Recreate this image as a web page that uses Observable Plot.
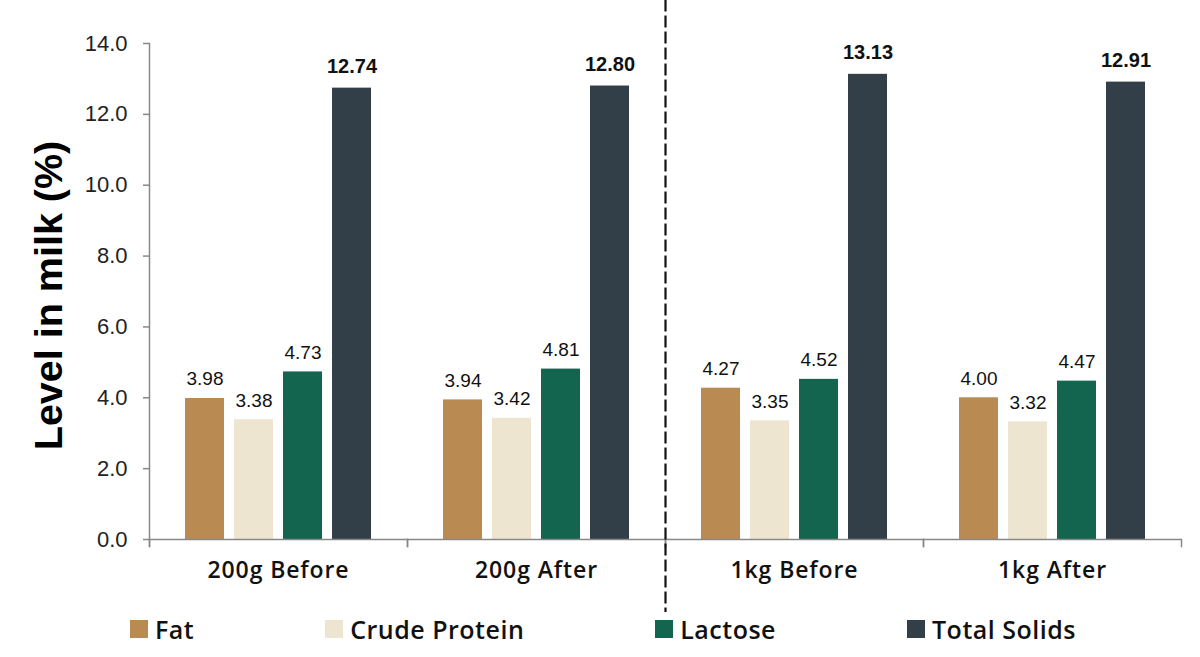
<!DOCTYPE html>
<html><head><meta charset="utf-8">
<script src="https://cdn.jsdelivr.net/npm/d3@7"></script>
<script src="https://cdn.jsdelivr.net/npm/@observablehq/plot@0.6"></script>
<style>
body{margin:0;background:#fff;}
#legend{display:flex;gap:131px;padding-left:130px;height:34px;align-items:center;font-family:"Open Sans",sans-serif;font-weight:600;font-size:25px;letter-spacing:0.5px;color:#111}
.item{display:flex;align-items:center;gap:7px}
.sw{width:18px;height:18px;display:inline-block}
svg [aria-label="fx-axis tick label"] text{letter-spacing:0.9px}
</style></head><body>
<div id="chart"></div><div id="legend"></div>
<script>
const groups = ["200g Before", "200g After", "1kg Before", "1kg After"];
const series = ["Fat", "Crude Protein", "Lactose", "Total Solids"];
const fat = [3.98, 3.94, 4.27, 4.00];
const protein = [3.38, 3.42, 3.35, 3.32];
const lactose = [4.73, 4.81, 4.52, 4.47];
const totalSolids = [12.74, 12.80, 13.13, 12.91];
const colors = ["#B98B52", "#EDE5D0", "#13654F", "#333F48"];
const yTicks = [0, 2, 4, 6, 8, 10, 12, 14];
const yTitle = "Level in milk (%)";
const divider = "1kg Before";

const valuesBySeries = [fat, protein, lactose, totalSolids];
const data = groups.flatMap((g, gi) => series.map((s, si) => ({group: g, series: s, value: valuesBySeries[si][gi]})));

const W = 1200, H = 612, mt = 43, mb = 73, ml = 149, mr = 19;
const innerH = H - mt - mb;

const chart = Plot.plot({
  width: W, height: H, marginTop: mt, marginBottom: mb, marginLeft: ml, marginRight: mr,
  style: {fontFamily: "Liberation Sans, Arial, sans-serif", background: "#fff"},
  fx: {domain: groups, padding: 0, label: null, axis: null},
  x: {domain: series, paddingInner: 0.2, paddingOuter: 0.73, axis: null},
  y: {domain: [0, 14], axis: null},
  color: {domain: series, range: colors},
  marks: [
    Plot.axisFx({anchor: "bottom", tickSize: 0, tickPadding: 22, fontSize: 23, fontFamily: "Open Sans, sans-serif", fontWeight: 600, fill: "#111", label: null}),
    Plot.axisY(yTicks, {anchor: "left", tickSize: 6, tickPadding: 16, fontSize: 22, tickFormat: d => d.toFixed(1), stroke: "#888", strokeWidth: 1.5, fill: "#222", label: null}),
    Plot.barY(data, {fx: "group", x: "series", y: "value", fill: "series"}),
    Plot.ruleY([0], {stroke: "#888", strokeWidth: 1.5}),
    Plot.frame({anchor: "left", fx: () => groups[0], stroke: "#888", strokeWidth: 1.5, insetBottom: -7}),
    Plot.frame({anchor: "left", stroke: "#888", strokeWidth: 1.5, insetTop: innerH, insetBottom: -7}),
    Plot.frame({anchor: "right", stroke: "#888", strokeWidth: 1.5, insetTop: innerH, insetBottom: -7}),
    Plot.frame({anchor: "left", fx: () => divider, stroke: "#111", strokeWidth: 2.2, strokeDasharray: "10,6", insetTop: -mt, insetBottom: -mb}),
    Plot.text(data.filter(d => d.series !== "Total Solids"), {fx: "group", x: "series", y: "value", text: d => d.value.toFixed(2), lineAnchor: "bottom", dy: -13, fontSize: 19, fill: "#111"}),
    Plot.text(data.filter(d => d.series === "Total Solids"), {fx: "group", x: "series", y: "value", text: d => d.value.toFixed(2), lineAnchor: "bottom", dy: -15, fontSize: 20, fontWeight: 700, fill: "#111"}),
    Plot.text([yTitle], {fx: () => groups[0], frameAnchor: "left", text: d => d, rotate: -90, dx: -100, dy: 4, fontSize: 39.5, fontWeight: 700, fill: "#000", textAnchor: "middle", lineAnchor: "middle"})
  ]
});
document.getElementById("chart").append(chart);

const legend = document.getElementById("legend");
series.forEach((s, i) => {
  const item = document.createElement("div");
  item.className = "item";
  const sw = document.createElement("span");
  sw.className = "sw";
  sw.style.background = colors[i];
  const label = document.createElement("span");
  label.textContent = s;
  item.append(sw, label);
  legend.append(item);
});
</script>
</body></html>
